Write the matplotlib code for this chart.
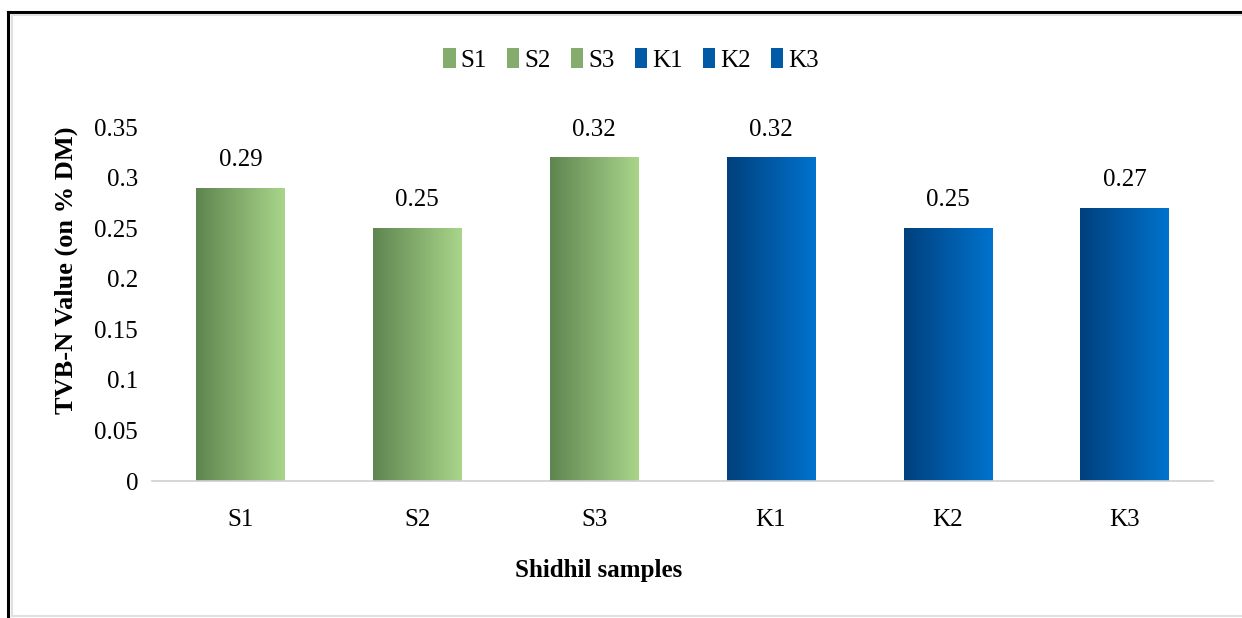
import numpy as np
import matplotlib.pyplot as plt
from matplotlib.colors import LinearSegmentedColormap
from matplotlib.lines import Line2D
from matplotlib.patches import Patch

plt.rcParams['font.family'] = ['Liberation Serif', 'DejaVu Serif']

samples = ['S1', 'S2', 'S3', 'K1', 'K2', 'K3']
tvbn = [0.29, 0.25, 0.32, 0.32, 0.25, 0.27]
groups = ['green', 'green', 'green', 'blue', 'blue', 'blue']

green_cmap = LinearSegmentedColormap.from_list('g', ['#5f8550', '#a9d58a'])
blue_cmap = LinearSegmentedColormap.from_list('b', ['#00407d', '#0073ce'])
cmaps = {'green': green_cmap, 'blue': blue_cmap}

fig = plt.figure(figsize=(12.42, 6.18), dpi=100)
ax = fig.add_axes([152 / 1242, 1 - 481 / 618, (1213 - 152) / 1242, (481 - 127) / 618])

x = np.arange(len(samples))
bars = ax.bar(x, tvbn, width=0.5, color='none', edgecolor='none')

# horizontal gradient fill, clipped to each bar
grad = np.linspace(0, 1, 256).reshape(1, -1)
for b, g in zip(bars, groups):
    x0, y0 = b.get_x(), b.get_y()
    w, h = b.get_width(), b.get_height()
    im = ax.imshow(grad, cmap=cmaps[g], aspect='auto',
                   extent=[x0, x0 + w, y0, y0 + h], zorder=2)
    im.set_clip_path(b)

for xi, v in zip(x, tvbn):
    ax.annotate(f'{v:g}', (xi, v), xytext=(0, 12), textcoords='offset points',
                ha='center', va='bottom', fontsize=18)

ax.set_xlim(-0.5, len(samples) - 0.5)
ax.set_ylim(0, 0.35)
ax.set_yticks(np.arange(0, 0.351, 0.05))
ax.set_yticklabels(['0', '0.05', '0.1', '0.15', '0.2', '0.25', '0.3', '0.35'])
ax.set_xticks(x)
ax.set_xticklabels(samples)
ax.tick_params(length=0, labelsize=18)
ax.tick_params(axis='x', pad=20)
ax.tick_params(axis='y', pad=10)
for s in ['top', 'right', 'left']:
    ax.spines[s].set_visible(False)
ax.spines['bottom'].set_color('#d0d0d0')
ax.spines['bottom'].set_linewidth(1.2)

fig.text(599 / 1242, 1 - 570 / 618, 'Shidhil samples', ha='center', va='center',
         fontsize=18, fontweight='bold')
fig.text(66 / 1242, 1 - 270 / 618, 'TVB-N Value (on % DM)', ha='center', va='center',
         rotation=90, fontsize=19, fontweight='bold')

handles = [Patch(facecolor=cmaps[g](0.5), edgecolor='none') for g in groups]
fig.legend(handles, samples, loc='center', bbox_to_anchor=(631 / 1242, 1 - 60 / 618),
           ncol=6, frameon=False, fontsize=18, handlelength=0.5, handleheight=0.8,
           handletextpad=0.2, columnspacing=0.8)

# outer frame: black top/left edge with a light grey inner border
fig.add_artist(Line2D([8 / 1242, 1], [1 - 12 / 618] * 2, color='black', lw=2.2,
                      transform=fig.transFigure))
fig.add_artist(Line2D([8 / 1242] * 2, [0, 1 - 12 / 618], color='black', lw=2.2,
                      transform=fig.transFigure))
fig.add_artist(Line2D([12 / 1242, 1], [1 - 15 / 618] * 2, color='#e0e0e0', lw=1.5,
                      transform=fig.transFigure))
fig.add_artist(Line2D([12 / 1242] * 2, [1 - 616 / 618, 1 - 15 / 618], color='#e0e0e0', lw=1.5,
                      transform=fig.transFigure))
fig.add_artist(Line2D([12 / 1242, 1], [1 - 616 / 618] * 2, color='#e0e0e0', lw=1.5,
                      transform=fig.transFigure))

fig.savefig('out.png', dpi=100)
